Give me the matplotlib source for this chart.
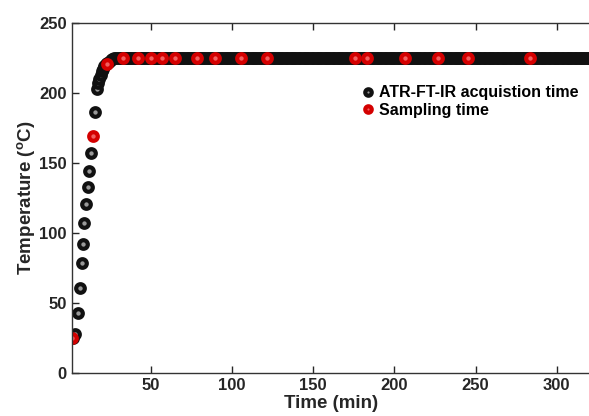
import numpy as np
import matplotlib.pyplot as plt

plt.rcParams['font.family'] = 'Liberation Sans'
plt.rcParams['font.weight'] = 'bold'
plt.rcParams['mathtext.fontset'] = 'custom'
plt.rcParams['mathtext.rm'] = 'Liberation Sans:bold'
plt.rcParams['mathtext.bf'] = 'Liberation Sans:bold'
plt.rcParams['mathtext.default'] = 'bf'

# ATR-FT-IR acquisition points (heating ramp)
acq_time = [2.0, 3.2, 4.9, 6.3, 7.3, 7.9, 8.9, 10.0, 11.2, 12.0, 13.1, 15.3, 16.6,
            17.5, 18.3, 19.0, 19.8, 20.6, 21.4, 22.3, 23.2, 24.2, 25.2, 26.3, 27.5, 28.8]
acq_temp = [25, 28.4, 43.4, 61, 78.8, 92.6, 107.6, 121, 132.9, 144.5, 157, 186.4, 202.9,
            207, 210, 213, 215.5, 217.5, 219, 220.5, 221.5, 222.5, 223.5, 224.3, 224.8, 225]
# isothermal part: acquisitions every ~1 min at 225 °C
plateau_start, plateau_end, plateau_step, plateau_temp = 30.0, 322.0, 1.0, 225
plateau_time = np.arange(plateau_start, plateau_end, plateau_step)
acq_time = np.concatenate([acq_time, plateau_time])
acq_temp = np.concatenate([acq_temp, np.full(len(plateau_time), plateau_temp)])

# sampling points
samp_time = [1.2, 14.3, 23.1, 32.6, 41.8, 49.8, 57.0, 64.8, 78.1, 89.2, 105.4, 121.4,
             176.0, 183.2, 206.4, 226.9, 245.6, 283.8]
samp_temp = [25, 169.5, 220.7, 225, 225, 225, 225, 225, 225, 225, 225, 225,
             225, 225, 225, 225, 225, 225]

fig = plt.figure(figsize=(5.89, 4.16), dpi=100)
ax = fig.add_axes([0.1217, 0.1026, 0.8815, 0.8421])

ax.plot(acq_time, acq_temp, 'o', ms=6.2, mew=3.0, mec='#111111', mfc='#999999',
        ls='none', label='ATR-FT-IR acquistion time')
ax.plot(samp_time, samp_temp, 'o', ms=6.2, mew=3.0, mec='#d40000', mfc='#f06060',
        ls='none', label='Sampling time')

ax.set_xlim(1.2, 321)
ax.set_ylim(0, 250)
ax.set_xticks([50, 100, 150, 200, 250, 300])
ax.set_yticks([0, 50, 100, 150, 200, 250])
ax.tick_params(direction='in', length=5, width=1, labelsize=12, colors='#262626',
               top=True, right=False)
for s in ax.spines.values():
    s.set_color('#333333')
    s.set_linewidth(1)
ax.spines['right'].set_visible(False)

ax.set_xlabel('Time (min)', fontsize=13.5, fontweight='bold', labelpad=1, color='#262626')
ax.set_ylabel(r'Temperature ($^{o}$C)', fontsize=13.5, fontweight='bold', color='#262626',
              labelpad=1.5)

ax.legend(loc='upper left', bbox_to_anchor=(0.54, 0.84), frameon=False,
          fontsize=11.5, handletextpad=0.1, borderaxespad=0, labelspacing=0.15,
          handlelength=1.2, markerscale=0.75)

fig.savefig('out.png', dpi=100)
